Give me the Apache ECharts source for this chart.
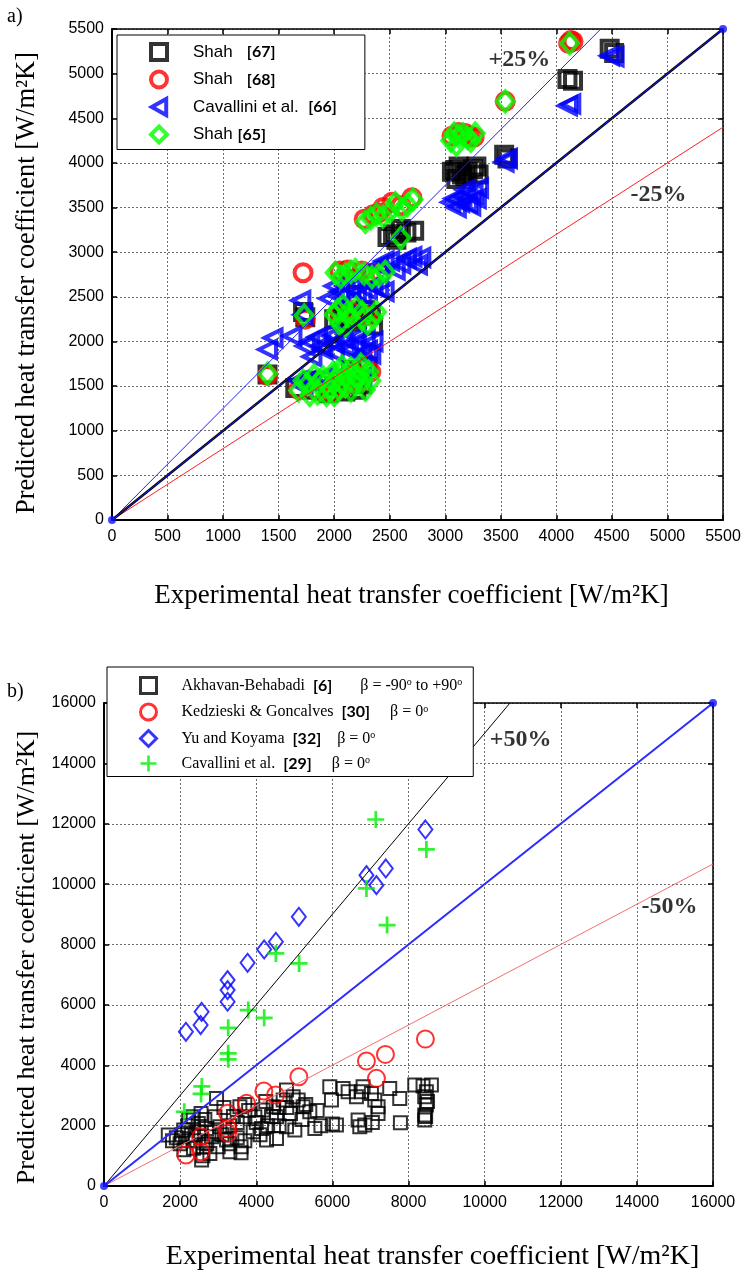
<!DOCTYPE html>
<html>
<head>
<meta charset="utf-8">
<script src="https://cdn.jsdelivr.net/npm/echarts@6/dist/echarts.min.js"></script>
<style>
html,body{margin:0;padding:0;background:#fff}
#chart{width:744px;height:1276px}
</style>
</head>
<body>
<div id="chart"></div>
<script>
// ---------- Panel (a): condensation HTC, predicted vs experimental [W/m²K] ----------
const ticksA = [0, 500, 1000, 1500, 2000, 2500, 3000, 3500, 4000, 4500, 5000, 5500];

const shah67 = [
  [1400,1630],[1650,1480],[1720,2330],[1740,2270],[1800,1460],[1950,1420],[2100,1440],
  [2250,1520],[2300,1720],[2150,1680],[2000,2250],[2100,2320],[2200,2260],[2330,2300],
  [2350,2180],[2200,2700],[2480,3170],[2560,3140],[2650,3220],[2720,3240],[3060,3900],
  [3120,3960],[3180,3850],[3250,3930],[3300,3870],[3100,3820],[3530,4090],[3560,4050],
  [4100,4940],[4150,4920],[4480,5280],[4520,5230],
  [1800,1560],[2000,1500],[2200,1460],[2050,2280],[2280,2350],[2150,2220],[2530,3200],
  [2600,3260],[3090,3920],[3200,3900],[3280,3960],[3150,3870]
];
const shah68 = [
  [1400,1620],[1720,2770],[1740,2250],[1680,1460],[1850,1450],[1980,1430],[2120,1520],
  [2250,1560],[2330,1660],[2050,2330],[2300,2290],[2050,2790],[2250,2790],[2420,2760],
  [2270,3370],[2440,3500],[2520,3560],[2700,3610],[2400,3440],[3060,4300],[3180,4330],
  [3260,4290],[3540,4690],[4110,5340],[4150,5360],
  [1760,1540],[1920,1560],[2060,1480],[2180,1650],[2120,2360],[2200,2300],[2120,2800],
  [2330,2760],[2350,3420],[2600,3520],[3120,4340],[3220,4300],[4130,5370]
];
const cavallini66 = [
  [1400,1910],[1450,2040],[1700,2460],[1720,2300],[1620,2060],[1750,1560],[1680,1560],
  [1720,1500],[1740,1950],[1850,2050],[1900,1910],[1950,2100],[2000,1980],[2100,1950],
  [2130,1900],[2200,2050],[2300,1900],[2350,2000],[2250,1850],[1800,1830],[1950,2480],
  [2050,2560],[2150,2600],[2250,2520],[2350,2620],[2450,2560],[2150,2450],[2400,2850],
  [2500,2900],[2600,2870],[2700,2950],[2780,2940],[2550,2800],[3050,3560],[3150,3630],
  [3250,3660],[3300,3720],[3100,3500],[3200,3550],[3530,4010],[3560,4050],[4100,4640],
  [4130,4660],[4480,5200],[4520,5190],
  [1780,2000],[1880,1950],[1980,2060],[2080,2030],[2180,1980],[2280,2020],[2330,1860],
  [2000,1880],[2050,2500],[2100,2620],[2200,2560],[2300,2580],[2400,2600],[2000,2620],
  [2450,2900],[2650,2930],[2750,2860],[3080,3600],[3180,3700],[3280,3600],[3130,3560],
  [3230,3520],[1900,1600],[2100,1650],[2250,1600]
];
const shah65 = [
  [1400,1640],[1730,2290],[1680,1450],[1760,1520],[1850,1420],[1900,1600],[1960,1480],
  [2010,1560],[2060,1650],[2100,1500],[2150,1700],[2200,1600],[2260,1560],[2310,1660],
  [2000,1400],[2150,1450],[2000,2300],[2080,2400],[2150,2250],[2250,2330],[2350,2260],
  [2050,2200],[2010,2770],[2100,2750],[2190,2800],[2340,2720],[2460,2780],[2280,3340],
  [2440,3400],[2610,3480],[2710,3590],[2550,3550],[2600,3160],[3050,4250],[3120,4300],
  [3200,4280],[3270,4330],[3100,4200],[3540,4690],[4120,5340],
  [1720,1560],[1780,1400],[1870,1560],[1930,1400],[1990,1650],[2040,1470],[2110,1600],
  [2180,1530],[2230,1680],[2280,1460],[2330,1560],[1820,1620],[2070,1720],[2240,1740],
  [2030,2350],[2120,2320],[2200,2380],[2300,2200],[2380,2330],[2100,2180],[2250,2250],
  [2060,2720],[2150,2780],[2270,2760],[2400,2740],[2330,3380],[2380,3420],[2500,3450],
  [2660,3530],[3160,4320],[3230,4250],[3080,4330]
];

// reference lines: y = x, +25 % and -25 % bands
const diagA = [[0,0],[5500,5500]];
const upperA = [[0,0],[4400,5500]];
const lowerA = [[0,0],[5500,4400]];
const bandTextA = ['+25%', '-25%'];
const bandAtA = [[3667,5157],[4919,3643]];

// ---------- Panel (b) ----------
const ticksB = [0, 2000, 4000, 6000, 8000, 10000, 12000, 14000, 16000];

const akhavan6 = [
  [1689,1687],[2095,1853],[2226,2184],[2345,2294],[2476,2073],[2695,1908],[2826,1632],
  [2782,1080],[2564,859],[2914,2294],[3045,1963],[3220,1521],[3307,1135],[2957,2901],
  [3570,2625],[3701,2294],[3920,1798],[4139,1908],[4270,1521],[4532,1577],[3964,2294],
  [4182,2515],[4445,2625],[4707,2846],[4795,3177],[4970,2957],[5101,2846],[5232,2625],
  [5407,2460],[5539,1908],[5014,1853],[4795,1963],[4532,2294],[5932,3288],[5976,2846],
  [6107,2018],[6414,3122],[6632,2957],[6807,3288],[6851,2018],[7026,3067],[7114,2846],
  [7201,2625],[7507,3233],[7770,2901],[7788,2096],[8164,3343],[8382,3310],[8601,3343],
  [8470,3122],[8426,2957],[8470,2681],[8426,2350],[8426,2184],[6676,2184],[6720,1963],
  [6282,3233],[6764,3122],
  [1900,1600],[2000,1400],[2100,1200],[2300,1700],[2400,1500],[2600,1300],[2600,1000],
  [2700,1400],[2900,1800],[3100,1700],[3300,1400],[3300,2000],[3500,1600],[3500,2100],
  [3700,1500],[3800,2500],[4000,2100],[4300,2000],[4400,2300],[4600,2000],[4900,2400],
  [5200,2200],[5300,2700],[2200,1500],[2500,1800],[3000,1300],[3400,2300],[3600,1300],
  [4100,1700],[4800,2600],[5600,2500],[1800,1500],[2050,1700],[2650,2200],[3150,2600],
  [3700,2700],[4250,2800],[4600,2600],[5700,2000],[6000,2050],[7050,2100],[7200,2400],
  [8450,2300],[8500,2800],[2200,2000],[2350,1250],[3600,1100],[2550,2400]
];
const kedzierski30 = [
  [2152,1026],[2546,1136],[2546,1633],[3247,1744],[3247,1910],[3247,2407],[3746,2738],
  [4200,3145],[4507,3013],[5119,3619],[6895,4139],[7394,4360],[7158,3566],[8444,4867]
];
const yuKoyama32 = [
  [2152,5109],[2564,5771],[2538,5331],[3247,6821],[3247,6490],[3247,6103],[3772,7394],
  [4208,7836],[4515,8090],[5119,8917],[6895,10298],[7157,9966],[7403,10519],[8444,11811]
];
const cavallini29 = [
  [2108,2460],[2550,3050],[2570,3300],[3263,4195],[3263,4394],[3263,5241],[3789,5827],
  [4208,5573],[4515,7704],[5127,7373],[6895,9857],[7140,12141],[7437,8642],[8470,11148]
];

const diagB = [[0,0],[16000,16000]];
const upperB = [[0,0],[10667,16000]];
const lowerB = [[0,0],[16000,10667]];
const bandTextB = ['+50%', '-50%'];
const bandAtB = [[10946,14767],[14858,9238]];

// ---------- styling helpers ----------
const SERIF = 'Liberation Serif';
const SANS = 'Liberation Sans';
const GRID_LINE = { color: '#6e6e6e', type: [2, 2], width: 1 };
const Y_TITLE = 'Predicted heat transfer coefficient [W/m\u00B2K]';
const X_TITLE = 'Experimental heat transfer coefficient [W/m\u00B2K]';

function axisPair(kind, grid, ticks, opts) {
  const min = ticks[0], max = ticks[ticks.length - 1], interval = ticks[1] - ticks[0];
  const main = {
    type: 'value', gridIndex: grid, min, max, interval,
    position: kind === 'x' ? 'bottom' : 'left',
    axisLine: { show: true, onZero: false, lineStyle: { color: '#000', width: 2 } },
    axisTick: { show: true, inside: true, length: 5, lineStyle: { color: '#000', width: 1.5 } },
    axisLabel: { color: '#000', fontFamily: SANS, fontSize: opts.labelSize, margin: opts.labelMargin,
                 formatter: v => String(v) },
    splitLine: { show: true, lineStyle: GRID_LINE },
    name: opts.name, nameLocation: 'middle', nameGap: opts.nameGap,
    nameTextStyle: { fontFamily: SERIF, fontSize: opts.nameSize, color: '#000', padding: opts.namePad }
  };
  const mirror = {
    type: 'value', gridIndex: grid, min, max, interval,
    position: kind === 'x' ? 'top' : 'right',
    axisLine: { show: true, onZero: false, lineStyle: { color: '#000', width: 1.5 } },
    axisTick: { show: true, inside: true, length: 5, lineStyle: { color: '#000', width: 1.5 } },
    axisLabel: { show: false }, splitLine: { show: false }
  };
  return [main, mirror];
}

const hollow = (c, w) => ({ color: 'rgba(0,0,0,0)', borderColor: c, borderWidth: w });

function markerSeries(name, data, grid, symbol, size, color, bw, rotate, z) {
  return {
    name, type: 'scatter', data, xAxisIndex: grid * 2, yAxisIndex: grid * 2,
    symbol, symbolSize: size, symbolRotate: rotate || 0,
    itemStyle: hollow(color, bw), z: z, silent: true, animation: false
  };
}

function refLine(data, grid, color, width, z) {
  return {
    type: 'line', data, xAxisIndex: grid * 2, yAxisIndex: grid * 2,
    symbol: 'none', showSymbol: false, silent: true, z: z || 5,
    lineStyle: { color, width }, animation: false
  };
}

function endDots(data, grid) {
  return {
    type: 'scatter', data, xAxisIndex: grid * 2, yAxisIndex: grid * 2,
    symbol: 'circle', symbolSize: 8, itemStyle: { color: '#1010ff' }, z: 7, silent: true
  };
}

function bandLabels(texts, at, grid) {
  return {
    type: 'scatter', xAxisIndex: grid * 2, yAxisIndex: grid * 2, silent: true, z: 8,
    data: at.map((p, i) => ({ value: p, label: { formatter: texts[i] } })),
    symbolSize: 1, itemStyle: { color: 'rgba(0,0,0,0)' },
    label: { show: true, position: 'inside', fontFamily: SERIF, fontWeight: 'bold', fontSize: 24, color: '#000' }
  };
}

const PLUS = 'path://M42,0H58V42H100V58H58V100H42V58H0V42H42Z';
const LEFT_TRI = 'path://M0,50L90,0V100Z';

const [xa0, xa1] = axisPair('x', 0, ticksA, { labelSize: 16, labelMargin: 9, name: X_TITLE, nameGap: 62, nameSize: 27, namePad: [0, 12, 0, 0] });
const [ya0, ya1] = axisPair('y', 0, ticksA, { labelSize: 16, labelMargin: 8, name: Y_TITLE, nameGap: 71, nameSize: 26.5, namePad: [0, 17, 0, 0] });
const [xb0, xb1] = axisPair('x', 1, ticksB, { labelSize: 16, labelMargin: 9, name: X_TITLE, nameGap: 57, nameSize: 28, namePad: [0, 0, 0, 48] });
const [yb0, yb1] = axisPair('y', 1, ticksB, { labelSize: 16, labelMargin: 8, name: Y_TITLE, nameGap: 61, nameSize: 26, namePad: [0, 26, 0, 0] });

// legend entries: a spacer token puts the text well clear of the marker
const legendA = {
  'Shah [67]': '{g| }{n|Shah}   {r|[67]}',
  'Shah [68]': '{g| }{n|Shah}   {r|[68]}',
  'Cavallini et al. [66]': '{g| }{n|Cavallini et al.}  {r|[66]}',
  'Shah [65]': '{g| }{n|Shah} {r|[65]}'
};
const legendB = {
  'Akhavan-Behabadi [6]': '{g| }{t|Akhavan-Behabadi}  {r|[6]}       {t|\u03B2 = -90}{s|o}{t| to +90}{s|o}',
  'Kedzieski & Goncalves [30]': '{g| }{t|Kedzieski & Goncalves}  {r|[30]}     {t|\u03B2 = 0}{s|o}',
  'Yu and Koyama [32]': '{g| }{t|Yu and Koyama}  {r|[32]}    {t|\u03B2 = 0}{s|o}',
  'Cavallini et al. [29]': '{g| }{t|Cavallini et al.}  {r|[29]}     {t|\u03B2 = 0}{s|o}'
};

const legendItemsA = Object.keys(legendA).map(name => ({
  name,
  icon: name === 'Cavallini et al. [66]' ? LEFT_TRI : undefined,
  itemStyle: { borderWidth: 4 }
}));
const legendItemsB = Object.keys(legendB).map(name => ({
  name, itemStyle: name === 'Cavallini et al. [29]' ? {} : { borderWidth: 3 }
}));

const option = {
  animation: false,
  backgroundColor: '#fff',
  title: [
    { text: 'a)', left: 2, top: 2, textStyle: { fontFamily: SERIF, fontSize: 20, fontWeight: 'normal', color: '#000' } },
    { text: 'b)', left: 2, top: 677, textStyle: { fontFamily: SERIF, fontSize: 20, fontWeight: 'normal', color: '#000' } }
  ],
  grid: [
    { left: 112, top: 29, width: 611, height: 491 },
    { left: 104, top: 703, width: 609, height: 483 }
  ],
  xAxis: [xa0, xa1, xb0, xb1],
  yAxis: [ya0, ya1, yb0, yb1],
  legend: [
    {
      data: legendItemsA, orient: 'vertical', left: 117, top: 35,
      padding: [7, 28, 5, 32], itemGap: 7.5, itemWidth: 16, itemHeight: 16,
      backgroundColor: '#fff', borderColor: '#000', borderWidth: 1, z: 20,
      selectedMode: false,
      formatter: n => legendA[n],
      textStyle: {
        fontFamily: SANS, fontSize: 17, color: '#000',
        rich: {
          g: { width: 21 },
          n: { fontFamily: SANS, fontSize: 17, color: '#000' },
          r: { fontFamily: 'Lato', fontWeight: 'bold', fontSize: 16, color: '#000' }
        }
      }
    },
    {
      data: legendItemsB, orient: 'vertical', left: 107, top: 667,
      padding: [9, 11, 5, 32], itemGap: 7.5, itemWidth: 16, itemHeight: 16,
      backgroundColor: '#fff', borderColor: '#000', borderWidth: 1, z: 20,
      selectedMode: false,
      formatter: n => legendB[n],
      textStyle: {
        fontFamily: SERIF, fontSize: 16, color: '#000',
        rich: {
          g: { width: 20 },
          t: { fontFamily: SERIF, fontSize: 16, color: '#000' },
          r: { fontFamily: 'Lato', fontWeight: 'bold', fontSize: 16, color: '#000' },
          s: { fontFamily: SERIF, fontSize: 10, color: '#000', verticalAlign: 'top' }
        }
      }
    }
  ],
  series: [
    // panel (a) markers
    markerSeries('Shah [67]', shah67, 0, 'rect', 16, '#000', 4, 0, 2),
    markerSeries('Shah [68]', shah68, 0, 'circle', 17, '#ff0000', 4, 0, 3),
    markerSeries('Cavallini et al. [66]', cavallini66, 0, 'triangle', 17, '#0000ff', 4, 90, 4),
    markerSeries('Shah [65]', shah65, 0, 'diamond', [17, 20], '#00ff00', 4, 0, 4),
    // panel (a) reference lines
    refLine(lowerA, 0, '#ff2020', 1),
    refLine(upperA, 0, '#2020ff', 1),
    refLine(diagA, 0, '#000', 2.5),
    refLine(diagA, 0, '#1a1aff', 1, 6),
    endDots(diagA, 0),
    bandLabels(bandTextA, bandAtA, 0),

    // panel (b) markers
    markerSeries('Akhavan-Behabadi [6]', akhavan6, 1, 'rect', 13, '#000', 2, 0, 2),
    markerSeries('Kedzieski & Goncalves [30]', kedzierski30, 1, 'circle', 17, '#ff0000', 2, 0, 3),
    markerSeries('Yu and Koyama [32]', yuKoyama32, 1, 'diamond', [14, 18], '#0000ff', 2, 0, 3),
    {
      name: 'Cavallini et al. [29]', type: 'scatter', data: cavallini29, xAxisIndex: 2, yAxisIndex: 2,
      symbol: PLUS, symbolSize: 17, itemStyle: { color: '#00ee00' }, z: 3, silent: true
    },
    // panel (b) reference lines
    refLine(lowerB, 1, '#f07070', 1),
    refLine(upperB, 1, '#000', 1),
    refLine(diagB, 1, '#2b2bff', 2),
    endDots(diagB, 1),
    bandLabels(bandTextB, bandAtB, 1)
  ]
};

const chart = echarts.init(document.getElementById('chart'), null, { renderer: 'canvas' });
chart.setOption(option);
</script>
</body>
</html>
